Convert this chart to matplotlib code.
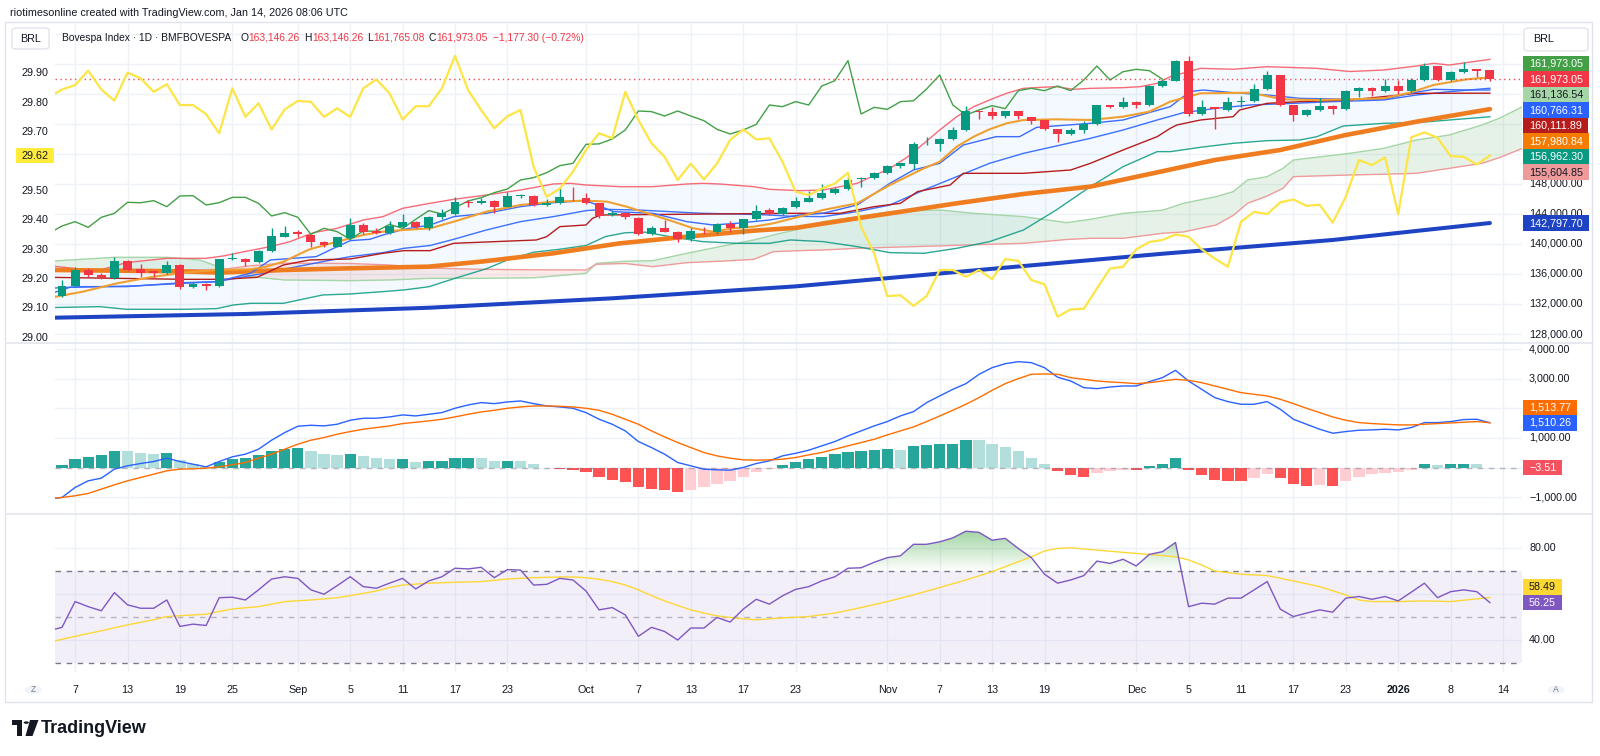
import numpy as np
import pandas as pd
import matplotlib
matplotlib.use('Agg')
import matplotlib.pyplot as plt
from matplotlib import font_manager as fm
from matplotlib.patches import Rectangle, Circle, Polygon, FancyBboxPatch
from matplotlib.colors import LinearSegmentedColormap

# =============================== DATA ===============================
holidays = ['2025-11-20', '2025-12-24', '2025-12-25', '2025-12-31', '2026-01-01']
session_days = pd.bdate_range('2025-08-06', '2026-01-14')
session_days = session_days[~session_days.isin(pd.to_datetime(holidays))]

tick_dates = ['2025-08-07', '2025-08-13', '2025-08-19', '2025-08-25', '2025-09-01', '2025-09-05',
              '2025-09-11', '2025-09-17', '2025-09-23', '2025-10-01', '2025-10-07', '2025-10-13',
              '2025-10-17', '2025-10-23', '2025-11-03', '2025-11-07', '2025-11-13', '2025-11-19',
              '2025-12-01', '2025-12-05', '2025-12-11', '2025-12-17', '2025-12-23', '2026-01-02',
              '2026-01-08', '2026-01-14']
tick_labels = ['7', '13', '19', '25', 'Sep', '5', '11', '17', '23', 'Oct', '7', '13', '17', '23',
               'Nov', '7', '13', '19', 'Dec', '5', '11', '17', '23', '2026', '8', '14']

opens = [133070, 134403, 136536, 135870, 135514, 137780, 136625, 136360, 136180, 137160,
         134314, 134625, 134403, 137958, 138050, 137647, 139114, 141000, 141550, 141250,
         140314, 139650, 140800, 142580, 141780, 141420, 142220, 142980, 142091, 143558,
         144000, 145600, 145420, 145780, 144980, 146400, 146400, 145200, 145420, 146300,
         146130, 145420, 143870, 144090, 143515, 141291, 142090, 141600, 140625, 141780,
         141650, 142620, 142090, 143291, 144540, 144000, 144900, 145640, 146110, 146846,
         147335, 148625, 148760, 149513, 150446, 150700, 153290, 153290, 154001, 155201,
         157734, 157650, 157068, 157734, 156978, 156534, 155290, 154668, 155201, 155957,
         158534, 158312, 158979, 158534, 161067, 161778, 164445, 157334, 158223, 157866,
         158950, 159067, 160667, 162534, 158534, 157201, 157823, 158400, 158045, 160400,
         160756, 160445, 161067, 160445, 161867, 163734, 161867, 162934, 163334, 163146.26]
highs = [135200, 137000, 136760, 136180, 138312, 137900, 137336, 136536, 137780, 137300,
         134900, 134800, 138000, 138847, 138100, 139200, 142091, 142400, 141870, 141300,
         140400, 141000, 143425, 142850, 142130, 143110, 144003, 143100, 143700, 144620,
         146224, 145870, 146100, 145900, 146980, 146620, 146500, 145960, 147420, 147650,
         146850, 145500, 144450, 144310, 143600, 142400, 143200, 141800, 142090, 142310,
         142850, 143070, 143300, 145200, 144760, 144950, 146300, 147110, 147956, 147650,
         149070, 148900, 149600, 150600, 150800, 153600, 154223, 154100, 155556, 158445,
         157800, 158312, 157800, 157800, 157000, 156600, 155300, 155500, 156400, 158600,
         158600, 159645, 159100, 161200, 161900, 164500, 165067, 159201, 158300, 159645,
         159734, 161334, 163111, 162600, 158600, 158000, 159512, 158500, 160500, 160900,
         160900, 161956, 161867, 162090, 164178, 163800, 163100, 164223, 163400, 163146.26]
lows = [132900, 134300, 135650, 135400, 135400, 136400, 135558, 135558, 136000, 133958,
        134200, 133870, 134300, 137900, 137070, 137500, 139000, 140900, 140890, 139647,
        139650, 139600, 140700, 141330, 141300, 141300, 142100, 142100, 141900, 143400,
        143900, 144980, 145300, 144090, 144900, 146090, 145100, 145100, 145300, 145690,
        145300, 143500, 143800, 143290, 141200, 141200, 141550, 140310, 140400, 141330,
        141330, 141650, 141330, 143200, 143900, 143900, 144800, 145550, 146000, 146670,
        147200, 147640, 148700, 149400, 150180, 150000, 153200, 152445, 153900, 155100,
        156623, 156623, 156756, 156623, 156000, 155200, 153645, 154500, 154846, 155850,
        158200, 158200, 158090, 158400, 160900, 161700, 157068, 157200, 155290, 157700,
        158312, 158950, 160500, 158400, 156401, 157100, 157700, 157334, 157900, 159556,
        159778, 160300, 160000, 160300, 161700, 161700, 161700, 162800, 162312, 161765.08]
closes = [134403, 136536, 135870, 135514, 137780, 136536, 136180, 136180, 137160, 134314,
          134670, 134403, 137958, 138050, 137647, 139114, 141069, 141424, 141290, 140314,
          139870, 140892, 142536, 141647, 141420, 142402, 142980, 142220, 143558, 144091,
          145558, 145500, 145780, 144980, 146402, 146450, 145202, 145510, 146220, 146220,
          145420, 143736, 144180, 143560, 141291, 142090, 141650, 140625, 141736, 141690,
          142620, 142090, 143291, 144447, 144000, 144847, 145735, 146180, 146846, 147335,
          148535, 148850, 149513, 150446, 150757, 153290, 153350, 154001, 155201, 157734,
          157650, 157068, 157734, 157068, 156446, 155290, 154668, 155201, 155957, 158534,
          158312, 158979, 158534, 161067, 161778, 164445, 157334, 158223, 157956, 158979,
          159100, 160667, 162534, 158534, 157201, 157868, 158445, 158045, 160445, 160756,
          160445, 161067, 160445, 161867, 163734, 161867, 162978, 163289, 163111, 161973.05]
change, change_pct = -1177.30, -0.72
lag_shift = 25   # Ichimoku lagging span is the close drawn 25 bars back

# overlay symbol on the left scale (one value per bar, first one is the bar before Aug 6)
overlay_left = [29.818,
    29.845, 29.860, 29.909, 29.845, 29.807, 29.902, 29.883, 29.837, 29.863, 29.792,
    29.792, 29.761, 29.696, 29.849, 29.752, 29.798, 29.709, 29.777, 29.806, 29.803,
    29.752, 29.781, 29.752, 29.849, 29.879, 29.832, 29.743, 29.788, 29.788, 29.849,
    29.959, 29.843, 29.775, 29.713, 29.754, 29.775, 29.582, 29.480, 29.508, 29.565,
    29.639, 29.696, 29.679, 29.837, 29.741, 29.662, 29.616, 29.537, 29.593, 29.539,
    29.593, 29.673, 29.709, 29.675, 29.679, 29.599, 29.497, 29.486, 29.508, 29.525,
    29.562, 29.378, 29.287, 29.142, 29.145, 29.109, 29.142, 29.231, 29.231, 29.208,
    29.231, 29.200, 29.268, 29.262, 29.197, 29.182, 29.072, 29.097, 29.099, 29.168,
    29.236, 29.242, 29.301, 29.326, 29.333, 29.352, 29.344, 29.301, 29.270, 29.242,
    29.395, 29.429, 29.421, 29.461, 29.471, 29.449, 29.453, 29.392, 29.480, 29.605,
    29.588, 29.614, 29.421, 29.682, 29.699, 29.681, 29.618, 29.616, 29.590, 29.62]

bb_upper_x = [-1, 1.6, 2.9, 4.9, 8, 11, 12.3, 14.3, 15.9, 17.4, 19.2, 21, 23, 24.5, 26, 28, 29.9, 32.4,
              35, 37.5, 38.8, 40, 42.6, 45.1, 47.7, 48.9, 50.2, 52.8, 54, 56.3, 58.1, 60.7, 63.2, 64.5,
              65.8, 67, 68.3, 69.6, 70.8, 72.1, 73.4, 74.7, 75.9, 77.2, 78.5, 81, 82.3, 83.6, 84.6, 86.9,
              89.4, 92, 95.8, 98.3, 100.9, 103.4, 104.7, 105.9, 109]
bb_upper = [137100, 136625, 136536, 137513, 138091, 138091, 138402, 139114, 139647, 140314, 141514,
            142091, 143202, 143647, 144758, 145400, 145958, 146535, 147202, 148002, 148091, 147869,
            147646, 147646, 148002, 148091, 148002, 147646, 147291, 147113, 147202, 148091, 150091,
            151557, 153424, 155201, 156979, 158312, 159201, 160090, 160756, 160889, 160978, 160623,
            160756, 160845, 160978, 161423, 162311, 163422, 163300, 163645, 163422, 163000, 163200,
            163734, 164089, 163867, 164622]
bb_lower_x = [-1, 2.9, 4.9, 9.3, 11.8, 13.1, 14.4, 16.9, 19.9, 22, 24.5, 26.1, 28, 30, 32.4, 34, 36, 38,
              40, 41.5, 43, 44.5, 46.5, 48.9, 51.5, 54, 55.6, 58.1, 60.7, 63.2, 65.8, 68.3, 70.8, 73.4,
              75.9, 78.5, 81, 83.6, 84.6, 86.9, 89.4, 92, 94.5, 95.8, 97.8, 100.9, 103.4, 105.9, 109]
bb_lower = [131514, 131648, 131292, 131292, 131381, 131870, 132092, 132092, 133203, 133337, 133648,
            133870, 134300, 135425, 136700, 137870, 138900, 139300, 139800, 141000, 141500, 141580,
            140950, 140314, 140092, 140092, 140536, 140314, 139647, 138847, 138758, 139425, 140314,
            141869, 144536, 147646, 150313, 152312, 152312, 152890, 153424, 153779, 153868, 154312,
            155734, 156090, 156179, 156534, 156962.30]
bb_basis_x = [-1, 1.6, 4.9, 9.3, 11.8, 15.4, 16.9, 19.9, 22, 24.5, 26.1, 28.1, 29.9, 32.4, 35, 37.5, 40,
              41.3, 43.9, 46.4, 48.9, 51.5, 54, 55.6, 58.1, 60.7, 63.2, 65.8, 68.3, 70.8, 73.4, 75.9,
              78.5, 81, 83.6, 85.6, 88.1, 90.7, 94, 97, 100.9, 103.4, 105.9, 109]
bb_basis = [134092, 134314, 134314, 134847, 134980, 136092, 136625, 137647, 138314, 138847, 139425,
            139800, 140625, 141869, 142980, 143647, 144447, 144625, 144536, 144314, 144091, 144002,
            143869, 143700, 143647, 144314, 145202, 147202, 148980, 150757, 152090, 153068, 154090,
            155201, 156534, 157512, 158090, 158534, 158756, 158979, 159201, 159867, 160312, 160766.31]
conv_x = [-1, 0.6, 5.4, 9.3, 11.8, 14.4, 15.9, 19.4, 21, 22, 23.5, 24.5, 26.1, 28.1, 29.9, 32.4, 35,
          37.5, 40, 42.1, 45.1, 47.7, 49.7, 51.5, 54, 56.3, 58.1, 60.7, 63.2, 65, 67, 68.8, 71.3, 73.1,
          74.4, 78.5, 81, 84.6, 86.1, 87.1, 89.4, 92, 94.5, 98.3, 100.9, 102.9, 104.7, 107.2, 109]
conv_line = [133300, 134225, 134403, 134759, 134980, 136092, 137870, 138314, 139647, 140447, 140625,
             141203, 141958, 142536, 143647, 144091, 144980, 145513, 145780, 144314, 144091, 142980,
             142536, 142758, 143202, 143869, 144091, 145202, 148091, 149868, 150757, 153201, 154312,
             154312, 155556, 156090, 156534, 158312, 160312, 160534, 160178, 159867, 159423, 159290,
             159290, 160090, 160623, 160534, 160534]
fast_ma_x = [-1, 1.6, 4.2, 6.7, 9.3, 11.8, 14.4, 15.6, 16.9, 18.9, 21, 23, 24.5, 26.1, 28.1, 29.9, 32.4,
             35, 37.5, 40, 41.6, 43.1, 45.1, 46.7, 48.2, 49.7, 51.2, 52.8, 54.3, 56.3, 58.1, 60.7, 63.2,
             64.5, 65.8, 67, 68.3, 69.6, 70.8, 72.1, 73.4, 75.9, 78.5, 81, 83, 84.6, 86.9, 90.7, 93.2,
             95.8, 98.3, 100.9, 102.9, 104.7, 107.2, 109]
fast_ma = [132800, 133648, 134759, 135559, 136180, 136536, 136625, 136980, 137647, 139291, 140314,
           141203, 141647, 141869, 142091, 142980, 144314, 145202, 145647, 145780, 145647, 144980,
           143869, 142980, 142091, 141647, 142091, 142313, 142758, 143647, 144536, 145424, 147869,
           148980, 150091, 150979, 152979, 154312, 155290, 156090, 156534, 156623, 156534, 156979,
           157645, 158979, 160090, 160178, 159290, 159201, 159290, 159423, 160178, 161200, 161956,
           162222]
base_x = [-1, 4.2, 9.3, 12.3, 14.9, 16.9, 18.9, 22, 24.5, 26.1, 28.1, 29.9, 36.2, 37, 38, 40, 40.5,
          41.1, 55.6, 59.4, 62, 64, 65.3, 67.8, 68.8, 73.4, 77, 78.5, 81, 83.6, 84.6, 85.1, 86.9, 89.4,
          89.9, 92, 94.5, 98.3, 103.4, 109]
base_line = [135559, 135425, 135292, 135292, 135559, 137203, 137870, 138003, 138758, 139114, 139114,
             140092, 140536, 140980, 142313, 142536, 143425, 143869, 144091, 144091, 144980, 145424,
             146980, 147869, 149424, 149424, 149868, 150757, 152535, 154312, 155423, 155868, 156534,
             156979, 157868, 158756, 158979, 159201, 160090, 160111.89]
cloud_x = [-1, 4, 8, 10.5, 12.3, 14.4, 17, 22, 25, 28, 32, 36, 40, 40.8, 43, 45.1, 47.7, 50.2, 52.8,
           54.3, 56.3, 58.1, 60.7, 63.2, 67, 69.6, 73.4, 76.7, 78.5, 81, 84, 85.6, 88.1, 89.4, 90.5, 92,
           93.2, 94, 98.3, 100.9, 103.4, 105.9, 108.4, 109.7, 111.5]
span_a = [137700, 138225, 138225, 137870, 136758, 135648, 135203, 135114, 135203, 135425, 135425,
          135500, 136092, 137425, 137700, 137780, 138758, 139647, 140536, 141200, 142000, 142980,
          143647, 144314, 144536, 144091, 143647, 142847, 143291, 144091, 144500, 145424, 146313,
          146980, 148535, 148980, 150091, 151202, 152090, 152757, 153868, 154535, 155868, 156757, 158312]
span_b = [136536, 136536, 136536, 136560, 136625, 137100, 137450, 137400, 137200, 136800, 136625,
          136560, 136536, 137300, 137400, 136980, 137513, 137700, 137950, 138980, 139114, 139203,
          139425, 139558, 139750, 139900, 140092, 140600, 140758, 140758, 141425, 141600, 142536,
          143800, 145424, 146400, 147424, 148980, 149202, 149300, 149424, 150091, 150757, 151500, 152757]
span_a_last, span_b_last = 161136.54, 155604.85
sma50_x = [-1, 9, 12, 17, 22, 28, 32, 37.5, 42.6, 47.7, 52.8, 56, 60.7, 68.3, 73.4, 78.5, 84, 88, 93,
           98, 103.4, 109]
sma50 = [136536, 136360, 136180, 136536, 136760, 136980, 137650, 138760, 140090, 140980, 141780,
         142150, 143425, 145424, 146670, 147650, 149700, 151200, 152535, 154535, 156312, 157980.84]
sma200_x = [-1, 14, 28, 42, 56, 70, 84, 97, 109]
sma200 = [130160, 130670, 131500, 132760, 134350, 136536, 138700, 140537, 142797.70]

# MACD (first value = bar before Aug 6)
macd_line = [-1060,
    -1012, -674, -450, -360, -56, 56, 135, 202, 315, 202, 112, 22, 202, 360, 450, 618, 922, 1180, 1394,
    1427, 1405, 1461, 1596, 1664, 1664, 1708, 1776, 1742, 1798, 1855, 2001, 2113, 2192, 2158, 2214,
    2248, 2158, 2079, 2046, 2001, 1855, 1630, 1461, 1236, 877, 674, 450, 169, 56, -56, -79, -90, 0,
    135, 225, 393, 480,
    584, 731, 877, 1068, 1236, 1405, 1551, 1742, 1888, 2192, 2417, 2641, 2832, 3147, 3372, 3507, 3574,
    3541, 3372, 3050, 2922, 2698, 2664, 2720, 2754, 2754, 2900, 3035, 3282, 2922, 2641, 2360, 2226,
    2136, 2136, 2226, 1967, 1630, 1461, 1293, 1158, 1214, 1259, 1270, 1293, 1270, 1349, 1517, 1517,
    1551, 1619, 1630, 1510.26]
macd_signal = [-1060,
    -1012, -955, -877, -731, -585, -450, -337, -225, -112, -56, -45, -22, 22, 90, 169, 315, 450, 618,
    787, 922, 1012, 1124, 1214, 1293, 1349, 1405, 1484, 1529, 1574, 1630, 1709, 1798, 1877, 1933, 2001,
    2046, 2079, 2079, 2068, 2046, 2001, 1933, 1798, 1630, 1461, 1236, 1034, 843, 674, 506, 393, 315,
    259, 247, 259, 281, 337,
    427, 506, 618, 731, 843, 955, 1102, 1236, 1371, 1551, 1742, 1933, 2136, 2360, 2608, 2832, 3001,
    3150, 3160, 3150, 3035, 2979, 2922, 2889, 2866, 2832, 2866, 2922, 2979, 2945, 2866, 2754, 2641,
    2529, 2473, 2417, 2304, 2158, 2001, 1855, 1708, 1596, 1517, 1484, 1461, 1439, 1439, 1461, 1484,
    1506, 1529, 1551, 1513.77]
macd_hist = [79, 281, 371, 416, 570, 560, 506, 472, 480, 247, 135, 22, 202, 281, 315, 416, 562, 641,
             650, 562, 450, 416, 450, 382, 315, 281, 290, 191, 225, 235, 315, 320, 310, 225, 235, 225,
             112, -22, -45, -79, -157, -315, -416, -495, -674, -731, -764, -821, -753, -674, -562, -450,
             -315, -157, -56, 79, 202,
             281, 371, 450, 528, 562, 584, 618, 600, 742, 776, 780, 809, 922, 915, 798, 708, 551, 337,
             112, -112, -247, -315, -191, -124, -80, -100, 45, 135, 337, -79, -259, -427, -450, -460,
             -360, -225, -360, -562, -618, -600, -620, -450, -315, -225, -180, -157, -90, 112, 79, 112,
             135, 112, -3.51]

# RSI (first value = bar before Aug 6)
rsi = [44.0,
    45.5, 56.7, 54.5, 52.7, 60.6, 55.3, 53.8, 53.8, 57.4, 45.9, 46.9, 46.3, 58.4, 58.6, 57.4, 61.8,
    66.5, 67.5, 66.8, 61.8, 59.9, 63.6, 67.5, 63.2, 62.5, 64.7, 66.8, 62.2, 65.7, 67.5, 71.2, 70.9,
    71.6, 67.1, 70.6, 70.4, 63.9, 64.2, 66.8, 66.1, 61.3, 53.1, 54.1, 50.9, 41.6, 45.5, 43.7, 40.0,
    45.2, 45.2, 49.8, 47.8, 53.4, 57.7, 55.6, 59.2, 62.0,
    63.2, 65.7, 67.5, 71.2, 71.4, 73.8, 75.8, 76.6, 81.6, 81.6, 82.7, 84.4, 87.3, 86.8, 83.4, 84.2,
    79.8, 75.8, 68.6, 64.7, 66.1, 68.0, 74.3, 73.3, 75.1, 72.2, 77.2, 78.4, 82.4, 54.5, 56.0, 55.6,
    58.2, 58.2, 61.8, 65.4, 53.4, 50.2, 51.7, 53.1, 52.1, 58.2, 58.9, 57.7, 58.9, 57.0, 60.8, 64.7,
    58.4, 61.0, 61.8, 61.0, 56.25]
rsi_ma_x = [-1, 1, 3, 5, 7, 8, 10, 11, 12, 13, 15, 17, 19, 21, 22, 23, 24, 25, 26, 28, 30, 32, 34, 36,
            38, 39, 40, 41, 42, 43, 44, 45, 46, 47, 48, 49, 50, 51, 52, 53, 54, 55, 57, 59, 61, 63, 65,
            67, 69, 71, 72, 73, 74, 75, 76, 77, 79, 81, 83, 85, 86, 87, 88, 90, 92, 94, 96, 98, 99, 100,
            102, 104, 106, 108, 109]
rsi_ma = [39.0, 41.6, 44.0, 46.6, 48.8, 50.2, 50.9, 51.2, 52.4, 53.5, 54.5, 56.7, 57.4, 58.4, 59.3,
          60.3, 61.3, 62.8, 63.9, 64.7, 65.1, 65.4, 66.5, 67.1, 67.4, 67.4, 67.1, 66.4, 65.4, 63.9, 61.8,
          59.3, 57.0, 55.0, 53.1, 51.7, 50.5, 49.8, 49.2, 48.8, 49.2, 49.6, 50.2, 51.7, 54.1, 56.7, 59.6,
          62.8, 66.1, 69.7, 71.9, 74.0, 76.2, 78.7, 79.8, 80.1, 79.1, 78.1, 77.2, 76.2, 74.8, 72.6, 70.0,
          68.6, 68.0, 65.7, 63.2, 59.6, 57.4, 56.7, 56.7, 57.0, 56.7, 57.9, 58.49]

price_tick_values = [128000, 132000, 136000, 140000, 144000, 148000, 152000, 156000, 160000, 164000, 168000]
left_tick_values = [29.0, 29.1, 29.2, 29.3, 29.4, 29.5, 29.6, 29.7, 29.8, 29.9]
macd_tick_values = [-1000, 0, 1000, 2000, 3000, 4000]
rsi_tick_values = [40, 60, 80]

# =============================== STYLE / LAYOUT ===============================
W, H = 1600, 756
names = {f.name for f in fm.fontManager.ttflist}
BASE = 'Liberation Sans' if 'Liberation Sans' in names else 'DejaVu Sans'
NARROW = 'Liberation Sans Narrow' if 'Liberation Sans Narrow' in names else BASE
NS = 1.0 if NARROW != BASE else 0.82
plt.rcParams['font.family'] = [NARROW, 'DejaVu Sans']

TEXT = '#131722'
GRID = '#EEF1F6'
UP, DOWN = '#089981', '#F23645'
SCALE_FS = 9.4 * NS

PX0, PX1 = 55, 1522
X0PIX, STEP = 62, 13.1
XLIM = ((PX0 - X0PIX) / STEP, (PX1 - X0PIX) / STEP)
MAIN_T, MAIN_B, MACD_B, RSI_B = 23, 343, 514, 672


def fx(px):
    return px / W


def fy(py):
    return 1 - py / H


def lims(ref_val, ref_px, per_px, top_px, bot_px):
    return ref_val - (bot_px - ref_px) * per_px, ref_val + (ref_px - top_px) * per_px


fig = plt.figure(figsize=(W / 100, H / 100), dpi=100)
fig.patch.set_facecolor('white')
renderer = fig.canvas.get_renderer()


def axes_px(x0, y0, x1, y1):
    a = fig.add_axes([fx(x0), fy(y1), (x1 - x0) / W, (y1 - y0) / H])
    a.set_xlim(*XLIM)
    a.axis('off')
    return a


def ypix(a, v):
    return H - a.transData.transform((0, v))[1]


def fmt(v):
    s = f"{abs(v):,.2f}"
    return ('\u2212' + s) if v < 0 else s


# frame
fig.add_artist(Rectangle((fx(5), fy(702)), (1592 - 5) / W, (702 - 22) / H, transform=fig.transFigure,
                         fc='white', ec='#E0E3EB', lw=1, zorder=-5))

ax = axes_px(PX0, MAIN_T, PX1, MAIN_B)
axl = axes_px(PX0, MAIN_T, PX1, MAIN_B)
axm = axes_px(PX0, MAIN_B, PX1, MACD_B)
axr = axes_px(PX0, MACD_B, PX1, RSI_B)

main_lim = lims(140000, 244, 4000 / 30, MAIN_T, MAIN_B)
left_lim = lims(29.90, 73.3, 0.1 / 29.4, MAIN_T, MAIN_B)
macd_lim = lims(0, 467.5, 1000 / 29.6, MAIN_B, MACD_B)
rsi_lim = lims(80, 548, 40 / 92, MACD_B, RSI_B)
ax.set_ylim(*main_lim)
axl.set_ylim(*left_lim)
axm.set_ylim(*macd_lim)
axr.set_ylim(*rsi_lim)

tick_idx = [session_days.get_loc(pd.Timestamp(d)) for d in tick_dates]

# grid
for a in (ax, axm, axr):
    for t in tick_idx:
        a.axvline(t, color=GRID, lw=1, zorder=0)
for v in price_tick_values:
    ax.axhline(v, color=GRID, lw=1, zorder=0)
for v in macd_tick_values:
    axm.axhline(v, color=GRID, lw=1, zorder=0)
for v in rsi_tick_values:
    axr.axhline(v, color=GRID, lw=1, zorder=0)

# ---------------- main pane ----------------
cx = np.array(cloud_x)
sa = np.array(span_a)
sb = np.array(span_b)
ax.fill_between(cx, sa, sb, where=sa >= sb, interpolate=True, color='#43A047', alpha=0.13, lw=0, zorder=1)
ax.fill_between(cx, sa, sb, where=sa < sb, interpolate=True, color='#F44336', alpha=0.10, lw=0, zorder=1)
ax.plot(cx, sa, color='#A5D6A7', lw=1, zorder=2)
ax.plot(cx, sb, color='#EF9A9A', lw=1, zorder=2)

ax.fill(np.concatenate([bb_upper_x, bb_lower_x[::-1]]), np.concatenate([bb_upper, bb_lower[::-1]]),
        color='#2196F3', alpha=0.05, lw=0, zorder=1)
ax.plot(bb_upper_x, bb_upper, color='#F7525F', lw=1, alpha=0.85, zorder=3)
ax.plot(bb_lower_x, bb_lower, color='#089981', lw=1, alpha=0.85, zorder=3)
ax.plot(bb_basis_x, bb_basis, color='#2962FF', lw=1, alpha=0.9, zorder=3)

ax.plot(sma200_x, sma200, color='#1E44C4', lw=2.9, solid_capstyle='round', zorder=3)
ax.plot(sma50_x, sma50, color='#EF7D1F', lw=3.3, solid_capstyle='round', zorder=3)
ax.plot(base_x, base_line, color='#B71C1C', lw=1, zorder=3)
ax.plot(conv_x, conv_line, color='#3D6BFF', lw=1, zorder=3)
ax.plot(fast_ma_x, fast_ma, color='#F0A030', lw=1.5, zorder=3)

c = np.array(closes)
lag_x = np.arange(-1, len(c) - lag_shift)
ax.plot(lag_x, c[lag_shift - 1:], color='#43A047', lw=1, zorder=3)

ax.axhline(closes[-1], color='#F23645', lw=1, ls=(0, (1, 2.5)), alpha=0.9, zorder=4)

o = np.array(opens)
hi = np.array(highs)
lo = np.array(lows)
xi = np.arange(len(c))
col = np.where(c >= o, UP, DOWN)
ax.vlines(xi, lo, hi, colors=col, lw=1, zorder=5)
ax.bar(xi, np.maximum(np.abs(c - o), 110), bottom=np.minimum(o, c), width=0.68, color=col, lw=0, zorder=6)

axl.plot(np.arange(-1, len(overlay_left) - 1), overlay_left, color='#FCE544', lw=1.6, zorder=4)

# ---------------- MACD pane ----------------
hv = np.array(macd_hist)
prev = np.concatenate([[-np.inf], hv[:-1]])
hcol = np.where(hv >= 0, np.where(hv >= prev, '#26A69A', '#B2DFDB'),
                np.where(hv <= prev, '#FF5252', '#FFCDD2'))
axm.bar(np.arange(len(hv)), hv, width=0.86, color=hcol, lw=0, zorder=2)
axm.axhline(0, color='#787B86', lw=1, ls=(0, (4, 4)), alpha=0.5, zorder=2)
mx = np.arange(-1, len(macd_line) - 1)
axm.plot(mx, macd_line, color='#2962FF', lw=1, zorder=3)
axm.plot(mx, macd_signal, color='#FF6D00', lw=1, zorder=3)

# ---------------- RSI pane ----------------
ra = np.array(rsi)
rx = np.arange(-1, len(ra) - 1)
axr.axhspan(30, 70, color='#7E57C2', alpha=0.09, lw=0, zorder=1)
for lvl, al in ((70, 1.0), (50, 0.5), (30, 1.0)):
    axr.axhline(lvl, color='#787B86', lw=1, ls=(0, (4, 4)), alpha=al, zorder=2)
coll = axr.fill_between(rx, ra, 70, where=ra > 70, interpolate=True, color='none', lw=0)
gcmap = LinearSegmentedColormap.from_list('ob', [(0.30, 0.69, 0.31, 0.0), (0.30, 0.69, 0.31, 0.6)])
grad = np.linspace(0, 1, 256).reshape(-1, 1)
for p in coll.get_paths():
    im = axr.imshow(grad, extent=(XLIM[0], XLIM[1], 70, 90), origin='lower', cmap=gcmap,
                    aspect='auto', interpolation='bilinear', zorder=2)
    im.set_clip_path(p, transform=axr.transData)
axr.plot(rsi_ma_x, rsi_ma, color='#FDD835', lw=1, zorder=3)
axr.plot(rx, ra, color='#7E57C2', lw=1, zorder=4)
axr.set_xlim(*XLIM)
axr.set_ylim(*rsi_lim)

# separators
for yy in (MAIN_B, MACD_B):
    fig.add_artist(Rectangle((fx(5), fy(yy + 0.7)), (1592 - 5) / W, 1.4 / H, transform=fig.transFigure,
                             fc='#E6E9EF', ec='none', zorder=1))

# ---------------- scale labels ----------------
right_boxes = [(28, 51)]   # BRL box area on the price scale
left_boxes = []


def scale_box(y, s, bg, fg, x0=1523, padx=6, h=15.5, store=None):
    t = fig.text(fx(x0 + padx), fy(y), s, color=fg, fontsize=SCALE_FS, ha='left', va='center', zorder=11)
    w = t.get_window_extent(renderer).width
    fig.add_artist(Rectangle((fx(x0), fy(y + h / 2)), (w + 2 * padx) / W, h / H, transform=fig.transFigure,
                             fc=bg, ec='none', zorder=10))
    (right_boxes if store is None else store).append((y - h / 2, y + h / 2))


def stack(ys, anchor, gap=15.5):
    ys = list(ys)
    for k in range(anchor - 1, -1, -1):
        ys[k] = min(ys[k], ys[k + 1] - gap)
    for k in range(anchor + 1, len(ys)):
        ys[k] = max(ys[k], ys[k - 1] + gap)
    return ys


def hidden(y, boxes):
    # a scale tick label is hidden when its centre falls inside a value box
    return any(b0 <= y <= b1 for b0, b1 in boxes)


main_label_vals = [closes[-1], closes[-1], span_a_last, bb_basis[-1], base_line[-1],
                   sma50[-1], bb_lower[-1], span_b_last]
main_label_sty = [('#43A047', 'white'), ('#F23645', 'white'), ('#A5D6A7', TEXT), ('#2962FF', 'white'),
                  ('#B71C1C', 'white'), ('#F57C00', 'white'), ('#089981', 'white'), ('#EF9A9A', TEXT)]
ys = stack([ypix(ax, v) for v in main_label_vals], anchor=1)
for yv, v, (bg, fg) in zip(ys, main_label_vals, main_label_sty):
    scale_box(yv, fmt(v), bg, fg)
scale_box(ypix(ax, sma200[-1]), fmt(sma200[-1]), '#1E44C4', 'white')

macd_vals = [macd_signal[-1], macd_line[-1]]
ys = stack([ypix(axm, v) for v in macd_vals], anchor=1)
scale_box(ys[0], fmt(macd_vals[0]), '#FF6D00', 'white')
scale_box(ys[1], fmt(macd_vals[1]), '#2962FF', 'white')
scale_box(ypix(axm, macd_hist[-1]), fmt(macd_hist[-1]), '#F7525F', 'white')

rsi_vals = [rsi_ma[-1], rsi[-1]]
ys = stack([ypix(axr, v) for v in rsi_vals], anchor=1)
scale_box(ys[0], fmt(rsi_vals[0]), '#FDD835', TEXT)
scale_box(ys[1], fmt(rsi_vals[1]), '#7E57C2', 'white')

# left yellow label
yl = ypix(axl, overlay_left[-1])
fig.add_artist(Rectangle((fx(16), fy(yl + 7.75)), 38 / W, 15.5 / H, transform=fig.transFigure,
                         fc='#FFEB3B', ec='none', zorder=10))
fig.text(fx(48.5), fy(yl), f"{overlay_left[-1]:.2f}", color=TEXT, fontsize=SCALE_FS, ha='right',
         va='center', zorder=11)
left_boxes.append((yl - 7.75, yl + 7.75))


def tick_text(x, y, s, boxes, ha='left'):
    if hidden(y, boxes):
        return
    fig.text(fx(x), fy(y), s, color=TEXT, fontsize=SCALE_FS, ha=ha, va='center', zorder=5)


for v in price_tick_values:
    tick_text(1529, ypix(ax, v), f"{v:,.2f}", right_boxes)
for v in macd_tick_values:
    tick_text(1529, ypix(axm, v), fmt(v), right_boxes)
for v in rsi_tick_values:
    tick_text(1529, ypix(axr, v), f"{v:.2f}", right_boxes)
for v in left_tick_values:
    tick_text(48.5, ypix(axl, v), f"{v:.2f}", left_boxes, ha='right')

# x axis labels
for t, lab in zip(tick_idx, tick_labels):
    xp = X0PIX + STEP * t
    fig.text(fx(xp), fy(690), lab, color=TEXT, fontsize=9.4 * NS, ha='center', va='center',
             fontweight='bold' if lab == '2026' else 'normal', zorder=5)

# Z / A buttons
for xp, s in ((33, 'Z'), (1556, 'A')):
    fig.add_artist(Circle((fx(xp), fy(690)), 8.5 / W, transform=fig.transFigure, fc='#F0F3FA', ec='none',
                          zorder=4))
    fig.text(fx(xp), fy(690), s, color='#787B86', fontsize=7.5 * NS, ha='center', va='center', zorder=5)

# BRL boxes
fig.add_artist(FancyBboxPatch((fx(12), fy(49)), 37 / W, 21 / H, boxstyle='round,pad=0,rounding_size=0.003',
                              transform=fig.transFigure, fc='white', ec='#E0E3EB', lw=1, zorder=12))
fig.text(fx(30.5), fy(38.5), 'BRL', color=TEXT, fontsize=9.4 * NS, ha='center', va='center', zorder=13)
fig.add_artist(FancyBboxPatch((fx(1524), fy(51)), 64 / W, 23 / H, boxstyle='round,pad=0,rounding_size=0.003',
                              transform=fig.transFigure, fc='white', ec='#E0E3EB', lw=1, zorder=12))
fig.text(fx(1533), fy(39.5), 'BRL', color=TEXT, fontsize=9.4 * NS, ha='left', va='center', zorder=13)

# header
fig.text(fx(10), fy(13), 'riotimesonline created with TradingView.com, Jan 14, 2026 08:06 UTC', color=TEXT,
         fontsize=9.4 * NS, ha='left', va='center')
RED = '#F23645'
parts = [('Bovespa Index \u00b7 1D \u00b7 BMFBOVESPA', TEXT, 9), ('O', TEXT, 0.5), (fmt(opens[-1]), RED, 4),
         ('H', TEXT, 0.5), (fmt(highs[-1]), RED, 4), ('L', TEXT, 0.5), (fmt(lows[-1]), RED, 4),
         ('C', TEXT, 0.5), (fmt(closes[-1]), RED, 5),
         (f"{fmt(change)} ({fmt(change_pct)}%)", RED, 0)]
xcur = 62
for s, colr, gap in parts:
    t = fig.text(fx(xcur), fy(38), s, color=colr, fontsize=9.0 * NS, ha='left', va='center', zorder=13)
    xcur += t.get_window_extent(renderer).width + gap

# TradingView logo
fig.add_artist(Polygon([(fx(12), fy(720)), (fx(22), fy(720)), (fx(22), fy(736)), (fx(17), fy(736)),
                        (fx(17), fy(725)), (fx(12), fy(725))], closed=True, transform=fig.transFigure,
                       fc=TEXT, ec='none'))
fig.add_artist(Circle((fx(26.3), fy(722.6)), 2.6 / W, transform=fig.transFigure, fc=TEXT, ec='none'))
fig.add_artist(Polygon([(fx(30), fy(720)), (fx(38.5), fy(720)), (fx(32.5), fy(736)), (fx(25.5), fy(736))],
                       closed=True, transform=fig.transFigure, fc=TEXT, ec='none'))
fig.text(fx(41), fy(728.5), 'TradingView', color=TEXT, fontsize=13, fontweight='bold', family=BASE,
         ha='left', va='center')

fig.savefig('out.png', dpi=100, facecolor='white')
